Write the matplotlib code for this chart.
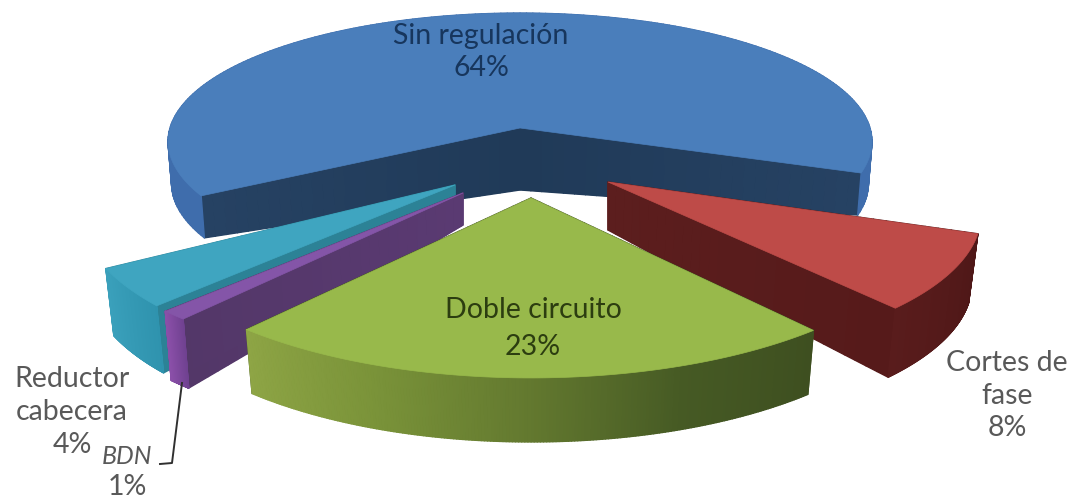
import numpy as np
import matplotlib
matplotlib.use('Agg')
import matplotlib.pyplot as plt
from matplotlib.collections import PolyCollection
from matplotlib.colors import to_rgb

names = ['Cortes de\nfase', 'Doble circuito', 'BDN', 'Reductor\ncabecera', 'Sin regulación']
shares = [8, 23, 1, 4, 64]

START_ANGLE = 20
DRAW_ORDER = [4, 0, 3, 2, 1]

# one projection per slice, the pie is exploded: apex x, y, radii a, b, perspective p,
# wall height at apex d0 and rim d1, shrink of the lower edge s
GEOM = [
    dict(cx=608, cy=182, a=364, b=140, p=0.22, d0=48, d1=69, s=0.975),
    dict(cx=531, cy=198, a=402, b=165, p=0.083, d0=40, d1=64, s=0.98),
    dict(cx=463, cy=193, a=390, b=156, p=0.10, d0=32, d1=69, s=0.98),
    dict(cx=455, cy=185, a=370, b=151, p=0.17, d0=30, d1=67, s=0.977),
    dict(cx=520, cy=128, a=350, b=127, p=0.105, d0=62, d1=42, s=0.99),
]
TOP = ['#be4b48', '#98b94b', '#8455a8', '#3fa5c0', '#4a7ebb']
WALL = [['#5c1e1e', '#561a1a'], ['#3e4f20', '#3e4f20'],
        ['#5a3a72', '#533768'], ['#2c8296', '#2c8296'], ['#203a58', '#264263']]
RIM = [['#591c1c', '#4e1717'],
       ['#8ea545', '#7a9339', '#63792f', '#465a24', '#3e4f20'],
       ['#8a4fa8', '#6f4190'], ['#3aa0bb', '#2f93ae'], ['#3f6dac', '#3f6dac']]

LABEL_POS = [(1007, 363, 33, 428, '#595959'), (533, 310, 37, 347, '#2c3d10'),
             (127, 456, 33, 487, '#595959'), (72, 379, 33, 445, '#595959'),
             (481, 36, 35, 68, '#17365d')]
LEADER_X = [182, 172, 160]
LEADER_Y = [383, 463, 464]


def blend(stops, n):
    rgb = np.array([to_rgb(c) for c in stops])
    t = np.linspace(0, 1, n)
    k = np.linspace(0, 1, len(stops))
    return np.column_stack([np.interp(t, k, rgb[:, i]) for i in range(3)])


def project(theta, r, g):
    u = r * np.cos(theta)
    v = r * np.sin(theta)
    w = 1 - g['p'] * v
    return g['cx'] + g['a'] * u / w, g['cy'] + g['b'] * v / w


def lower(x, y, r, g):
    return g['cx'] + (x - g['cx']) * g['s'], y + g['d0'] + (g['d1'] - g['d0']) * r


def draw_band(ax, x, y, xb, yb, cols, z):
    # solid base first so that no seams show between the shaded strips
    ax.fill(np.r_[x, xb[::-1]], np.r_[y, yb[::-1]], color=cols.mean(axis=0), lw=0, zorder=z)
    quads = [[(x[i], y[i]), (x[i + 1], y[i + 1]), (xb[i + 1], yb[i + 1]), (xb[i], yb[i])]
             for i in range(len(x) - 1)]
    ax.add_collection(PolyCollection(quads, facecolors=cols, edgecolors=cols, linewidths=1.0, zorder=z))


def draw_wall(ax, theta, g, stops, z):
    r = np.linspace(0, 1, 31)
    x, y = project(theta, r, g)
    xb, yb = lower(x, y, r, g)
    draw_band(ax, x, y, xb, yb, blend(stops, 30), z)


def draw_slice(ax, t0, t1, g, top, wall, rim, z):
    draw_wall(ax, t0, g, wall, z)
    draw_wall(ax, t1, g, wall, z)
    th = np.linspace(t0, t1, 200)
    x, y = project(th, 1.0, g)
    xb, yb = lower(x, y, 1.0, g)
    # rim shaded from left to right on screen
    order = np.argsort(x)
    shade = np.empty((len(x), 3))
    shade[order] = blend(rim, len(x))
    draw_band(ax, x, y, xb, yb, shade[:-1], z + 1)
    ax.fill(np.r_[g['cx'], x], np.r_[g['cy'], y], color=top, lw=0.5, zorder=z + 2)


fig = plt.figure(figsize=(10.72, 4.99), dpi=100)
ax = fig.add_axes([0, 0, 1, 1])
ax.set_xlim(0, 1072)
ax.set_ylim(499, 0)
ax.axis('off')

edges = np.radians(START_ANGLE + np.cumsum([0] + shares) * 3.6)
for n, i in enumerate(DRAW_ORDER):
    draw_slice(ax, edges[i], edges[i + 1], GEOM[i], TOP[i], WALL[i], RIM[i], 2 + n * 3)

ax.plot(LEADER_X, LEADER_Y, color='#303030', lw=1.4, zorder=30)

for i, name in enumerate(names):
    x, y, step, pct_y, col = LABEL_POS[i]
    style = 'italic' if name == 'BDN' else 'normal'
    size = 18 if name == 'BDN' else 20.5
    for j, part in enumerate(name.split('\n')):
        ax.text(x, y + j * step, part, ha='center', va='center', fontsize=size, style=style,
                family='Lato', color=col, zorder=31)
    ax.text(x, pct_y, f'{shares[i]}%', ha='center', va='center', fontsize=20.5,
            family='Lato', color=col, zorder=31)

fig.savefig('out.png', dpi=100)
